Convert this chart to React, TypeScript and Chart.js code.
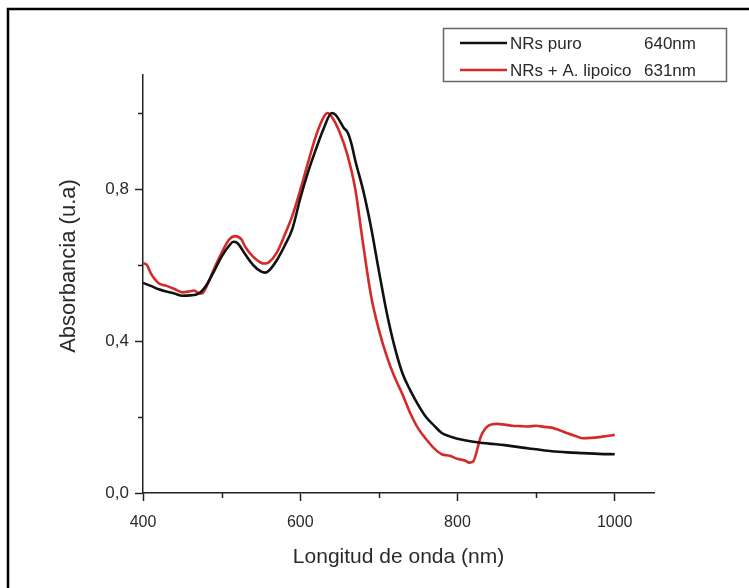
import { useEffect, useRef } from "react";
import { Chart, registerables } from "chart.js";
Chart.register(...registerables);

const seriesLabels = ["NRs puro", "NRs + A. lipoico"];
const peakLabels = ["640nm", "631nm"];
const seriesColors = ["#111111", "#d42a2a"];

const xMajorTicks = [400, 600, 800, 1000];
const xMinorTicks = [500, 700, 900];
const yMajorTicks = [0, 0.4, 0.8];
const yMinorTicks = [0.2, 0.6, 1.0];

const blackNm = [400, 410, 420, 430, 440, 450, 460, 470, 480, 490, 500, 510, 515, 520, 530, 540, 550, 555, 560, 570, 580, 590, 600, 610, 620, 630, 640, 645, 650, 655, 660, 665, 670, 680, 690, 700, 710, 720, 730, 740, 750, 760, 770, 780, 790, 800, 820, 840, 860, 880, 900, 920, 940, 960, 980, 1000];
const blackAbs = [0.553, 0.545, 0.536, 0.53, 0.525, 0.519, 0.52, 0.524, 0.545, 0.582, 0.622, 0.652, 0.661, 0.658, 0.628, 0.6, 0.583, 0.58, 0.585, 0.612, 0.65, 0.695, 0.775, 0.845, 0.905, 0.96, 1.0, 0.995, 0.98, 0.962, 0.95, 0.92, 0.875, 0.797, 0.7, 0.585, 0.475, 0.385, 0.315, 0.27, 0.232, 0.2, 0.178, 0.158, 0.149, 0.143, 0.135, 0.13, 0.126, 0.12, 0.115, 0.11, 0.107, 0.105, 0.103, 0.102];

const redNm = [400, 405, 410, 420, 430, 440, 450, 460, 465, 470, 475, 480, 490, 500, 510, 517, 525, 530, 540, 550, 555, 560, 570, 580, 590, 600, 610, 620, 630, 635, 640, 650, 660, 670, 680, 690, 700, 710, 720, 730, 740, 750, 760, 770, 780, 790, 800, 810, 815, 820, 830, 840, 850, 860, 870, 880, 890, 900, 910, 920, 930, 940, 950, 960, 970, 980, 990, 1000];
const redAbs = [0.605, 0.6, 0.578, 0.552, 0.545, 0.537, 0.528, 0.531, 0.533, 0.527, 0.525, 0.54, 0.588, 0.632, 0.668, 0.676, 0.668, 0.648, 0.622, 0.606, 0.604, 0.607, 0.632, 0.678, 0.73, 0.797, 0.87, 0.94, 0.99, 1.0, 0.99, 0.95, 0.89, 0.8, 0.655, 0.52, 0.43, 0.36, 0.305, 0.26, 0.21, 0.17, 0.142, 0.118, 0.102, 0.098, 0.09, 0.085, 0.08, 0.083, 0.15, 0.178, 0.182, 0.18, 0.177, 0.176, 0.175, 0.177, 0.174, 0.172, 0.165, 0.157, 0.15, 0.144, 0.145, 0.147, 0.15, 0.153];

const FONT = "'Liberation Sans', Arial, sans-serif";
const TEXT = "#2a2a2a";

const decor = {
  id: "decor",
  beforeDraw(chart: any) {
    const { ctx, width, height } = chart;
    ctx.save();
    ctx.fillStyle = "#fff";
    ctx.fillRect(0, 0, width, height);
    ctx.strokeStyle = "#000";
    ctx.lineWidth = 2.5;
    ctx.beginPath();
    ctx.moveTo(8, height);
    ctx.lineTo(8, 9);
    ctx.lineTo(width, 9);
    ctx.stroke();
    ctx.restore();
  },
  afterDraw(chart: any) {
    const { ctx, chartArea, scales } = chart;
    const xs = scales.x;
    const ys = scales.y;
    ctx.save();
    // minor ticks
    ctx.strokeStyle = "#222";
    ctx.lineWidth = 1.5;
    ctx.beginPath();
    xMinorTicks.forEach((v) => {
      const px = Math.round(xs.getPixelForValue(v)) + 0.5;
      ctx.moveTo(px, chartArea.bottom);
      ctx.lineTo(px, chartArea.bottom + 5);
    });
    yMinorTicks.forEach((v) => {
      const py = Math.round(ys.getPixelForValue(v)) + 0.5;
      ctx.moveTo(chartArea.left - 5, py);
      ctx.lineTo(chartArea.left, py);
    });
    ctx.stroke();

    // y axis title
    ctx.fillStyle = TEXT;
    ctx.font = `22px ${FONT}`;
    ctx.textAlign = "center";
    ctx.textBaseline = "middle";
    ctx.translate(69, 266);
    ctx.rotate(-Math.PI / 2);
    ctx.fillText("Absorbancia (u.a)", 0, 0);
    ctx.setTransform(1, 0, 0, 1, 0, 0);

    // legend box
    ctx.strokeStyle = "#666";
    ctx.lineWidth = 1.5;
    ctx.strokeRect(443.5, 28.5, 283, 53);
    const rows = [43, 70];
    ctx.font = `17px ${FONT}`;
    ctx.textAlign = "left";
    ctx.textBaseline = "middle";
    seriesLabels.forEach((lab, i) => {
      ctx.strokeStyle = seriesColors[i];
      ctx.lineWidth = 2.5;
      ctx.beginPath();
      ctx.moveTo(460, rows[i]);
      ctx.lineTo(507, rows[i]);
      ctx.stroke();
      ctx.fillStyle = TEXT;
      ctx.fillText(lab, 510, rows[i] + 1);
      ctx.fillText(peakLabels[i], 644, rows[i] + 1);
    });
    ctx.restore();
  },
};

export default function App() {
  const ref = useRef<HTMLCanvasElement>(null);
  useEffect(() => {
    const canvas = ref.current!;
    const chart = new Chart(canvas, {
      type: "line",
      data: {
        datasets: [
          {
            label: seriesLabels[0],
            data: blackNm.map((x, i) => ({ x, y: blackAbs[i] })),
            borderColor: seriesColors[0],
            borderWidth: 2.6,
            pointRadius: 0,
            cubicInterpolationMode: "monotone",
          },
          {
            label: seriesLabels[1],
            data: redNm.map((x, i) => ({ x, y: redAbs[i] })),
            borderColor: seriesColors[1],
            borderWidth: 2.6,
            pointRadius: 0,
            cubicInterpolationMode: "monotone",
          },
        ],
      },
      options: {
        responsive: false,
        animation: false,
        layout: { padding: { left: 0, right: 95, top: 75, bottom: 0 } },
        plugins: { legend: { display: false }, tooltip: { enabled: false } },
        scales: {
          x: {
            type: "linear",
            min: 400,
            max: 1050,
            afterBuildTicks: (s: any) => {
              s.ticks = xMajorTicks.map((v) => ({ value: v }));
            },
            afterFit: (s: any) => {
              s.height = 95;
            },
            grid: { display: true, drawOnChartArea: false, drawTicks: true, tickLength: 8, tickWidth: 1.5, tickColor: "#222" },
            border: { display: true, color: "#222", width: 1.5 },
            ticks: {
              padding: 12,
              autoSkip: false,
              maxRotation: 0,
              color: TEXT,
              font: { family: FONT, size: 16 },
              callback: (v: any) => String(v),
            },
            title: {
              display: true,
              text: "Longitud de onda (nm)",
              color: TEXT,
              font: { family: FONT, size: 21 },
              padding: { top: 0, bottom: 18 },
            },
          },
          y: {
            type: "linear",
            min: 0,
            max: 1.1,
            afterBuildTicks: (s: any) => {
              s.ticks = yMajorTicks.map((v) => ({ value: v }));
            },
            afterFit: (s: any) => {
              s.width = 143;
            },
            grid: { display: true, drawOnChartArea: false, drawTicks: true, tickLength: 8, tickWidth: 1.5, tickColor: "#222" },
            border: { display: true, color: "#222", width: 1.5 },
            ticks: {
              padding: 6,
              color: TEXT,
              font: { family: FONT, size: 17 },
              callback: (v: any) => Number(v).toFixed(1).replace(".", ","),
            },
            title: { display: false },
          },
        },
      },
      plugins: [decor],
    } as any);
    return () => chart.destroy();
  }, []);
  return (
    <div style={{ position: "absolute", left: 0, top: 0, width: 749, height: 588, background: "#fff" }}>
      <canvas ref={ref} width={749} height={588} style={{ display: "block" }} />
    </div>
  );
}
